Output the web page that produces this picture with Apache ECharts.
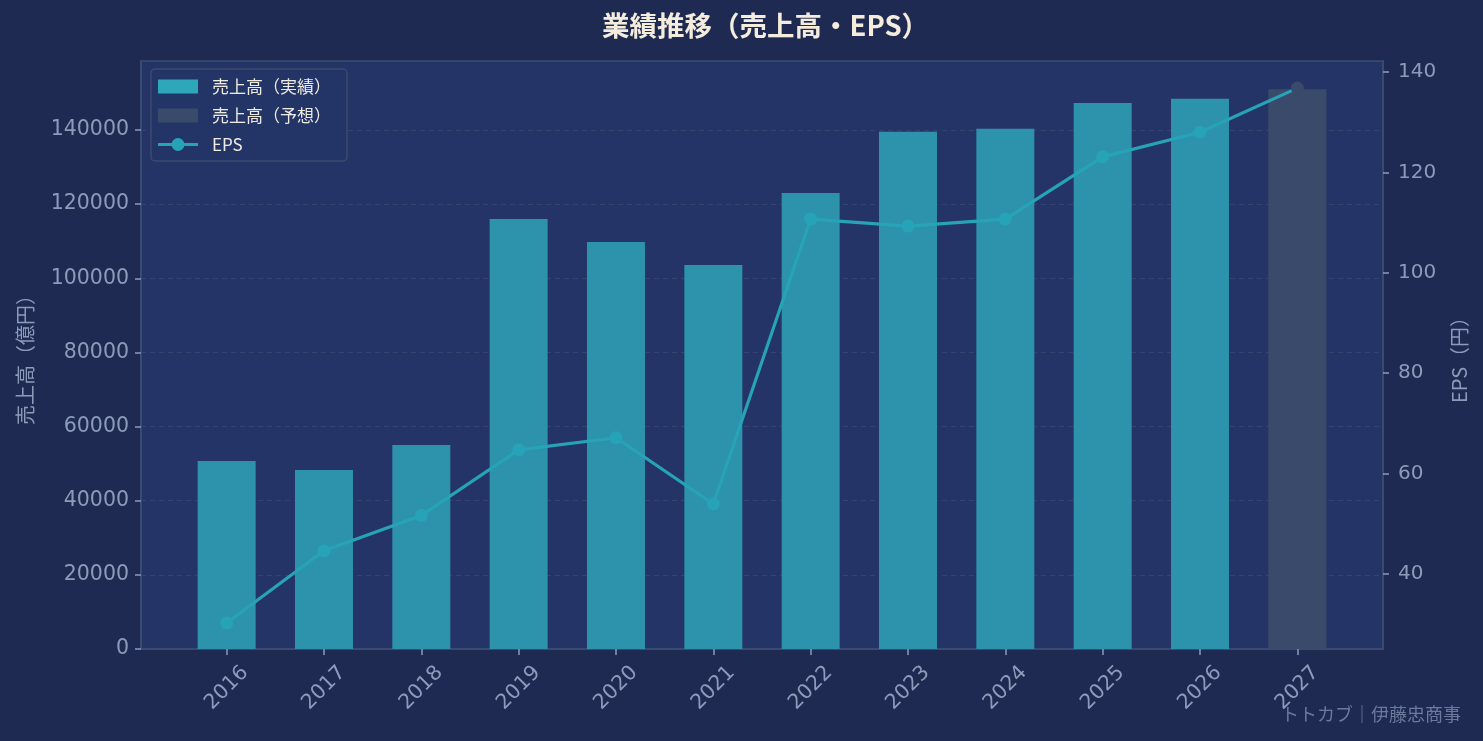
<!DOCTYPE html>
<html>
<head>
<meta charset="utf-8">
<script src="https://cdn.jsdelivr.net/npm/echarts@6/dist/echarts.min.js"></script>
<style>
html,body{margin:0;padding:0;background:#1e2a52;}
#chart{width:1483px;height:741px;}
</style>
</head>
<body>
<div id="chart"></div>
<script>
var years = ['2016','2017','2018','2019','2020','2021','2022','2023','2024','2025','2026','2027'];
var sales = [50700, 48300, 55000, 116000, 109800, 103600, 123000, 139500, 140300, 147300, 148400, 151000];
var eps = [30.2, 44.6, 51.6, 64.7, 67.1, 53.9, 110.7, 109.3, 110.7, 123.1, 128.0, 136.8];
var forecastFrom = 11; // 2027 は予想
var leftTicks = [0, 20000, 40000, 60000, 80000, 100000, 120000, 140000];
var rightTicks = [40, 60, 80, 100, 120, 140];

var font = 'Noto Sans CJK JP';
var numFont = 'DejaVu Sans';
var txt = '#8d9bbb';
var frame = '#3d4d72';
// 凡例のEPSアイコン（線＋丸）
var epsIcon = 'path://M0,5.5h40v3h-40z M13.5,7a6.5,6.5 0 1,1 13,0a6.5,6.5 0 1,1 -13,0z';

var actualData = [], forecastData = [], epsData = [], idx = [];
for (var i = 0; i < years.length; i++) {
	idx.push(i);
	if (i < forecastFrom) actualData.push([i, sales[i]]);
	else forecastData.push([i, sales[i]]);
	var p = {value: [i, eps[i]]};
	if (i >= forecastFrom) p.itemStyle = {color: '#3a4a6b'};
	epsData.push(p);
}

var myChart = echarts.init(document.getElementById('chart'));
var option = {
	backgroundColor: '#1e2a52',
	textStyle: {fontFamily: font},
	title: {
		text: '業績推移（売上高・EPS）',
		left: 597,
		top: 7,
		textStyle: {color: '#f4ecdc', fontSize: 27.5, fontWeight: 'bold', fontFamily: font}
	},
	legend: {
		orient: 'vertical',
		left: 151,
		top: 69,
		padding: [9, 16, 8, 7],
		itemWidth: 40,
		itemHeight: 14,
		itemGap: 12,
		backgroundColor: 'rgba(36,52,102,0.9)',
		borderColor: '#3c4a6e',
		borderWidth: 1.5,
		borderRadius: 4,
		textStyle: {color: '#efebe2', fontSize: 17, fontFamily: font, padding: [0, 0, 0, 9]},
		data: [
			{name: '売上高（実績）', icon: 'rect', itemStyle: {color: '#2fa7bb'}},
			{name: '売上高（予想）', icon: 'rect', itemStyle: {color: '#3a4a6b'}},
			{name: 'EPS', icon: epsIcon, itemStyle: {color: '#27a3b8'}}
		]
	},
	grid: {
		left: 141, right: 100, top: 61, bottom: 92,
		show: true,
		backgroundColor: '#243466',
		borderColor: frame,
		borderWidth: 1.5
	},
	xAxis: {
		type: 'value',
		min: -0.88,
		max: 11.88,
		splitLine: {show: false},
		axisLine: {show: true, onZero: false, lineStyle: {color: frame, width: 1.5}},
		axisTick: {show: true, customValues: idx, length: 6, lineStyle: {color: txt, width: 1.5}},
		axisLabel: {
			customValues: idx,
			rotate: 45,
			align: 'center',
			verticalAlign: 'middle',
			color: txt,
			fontSize: 20.5,
			fontFamily: numFont,
			margin: 39,
			formatter: function (v) { return years[Math.round(v)]; }
		}
	},
	yAxis: [
		{
			type: 'value',
			min: 0,
			max: 158600,
			interval: 20000,
			name: '売上高（億円）',
			nameLocation: 'middle',
			nameRotate: 90,
			nameGap: 106,
			nameTextStyle: {color: txt, fontSize: 20, fontFamily: font},
			axisLine: {show: true, onZero: false, lineStyle: {color: frame, width: 1.5}},
			axisTick: {show: true, length: 6, customValues: leftTicks, lineStyle: {color: txt, width: 1.5}},
			axisLabel: {
				color: txt, fontSize: 20.5, fontFamily: numFont, margin: 12,
				customValues: leftTicks,
				formatter: function (v) { return String(v); }
			},
			splitLine: {show: true, lineStyle: {color: '#34446f', type: [5, 4], width: 1}}
		},
		{
			type: 'value',
			min: 25.0,
			max: 142.2,
			position: 'right',
			name: 'EPS（円）',
			nameLocation: 'middle',
			nameRotate: 90,
			nameGap: 66,
			nameTextStyle: {color: txt, fontSize: 20, fontFamily: font},
			axisLine: {show: true, onZero: false, lineStyle: {color: frame, width: 1.5}},
			axisTick: {show: true, length: 6, customValues: rightTicks, lineStyle: {color: txt, width: 1.5}},
			axisLabel: {color: txt, fontSize: 20, fontFamily: numFont, margin: 15, customValues: rightTicks},
			splitLine: {show: false}
		}
	],
	series: [
		{
			name: '売上高（実績）',
			type: 'bar',
			yAxisIndex: 0,
			barWidth: 58,
			barGap: '-100%',
			itemStyle: {color: '#2d92ac'},
			data: actualData,
			z: 2
		},
		{
			name: '売上高（予想）',
			type: 'bar',
			yAxisIndex: 0,
			barWidth: 58,
			barGap: '-100%',
			itemStyle: {color: '#3a4a6b'},
			data: forecastData,
			z: 2
		},
		{
			name: 'EPS',
			type: 'line',
			yAxisIndex: 1,
			symbol: 'circle',
			symbolSize: 13,
			lineStyle: {color: '#27a3b8', width: 3.2},
			itemStyle: {color: '#27a3b8'},
			data: epsData,
			z: 5
		}
	],
	graphic: [
		{
			type: 'text',
			right: 22,
			top: 705,
			style: {text: 'トトカブ｜伊藤忠商事', fill: '#6b7a9c', fontSize: 18, fontFamily: font}
		}
	]
};
myChart.setOption(option);
</script>
</body>
</html>
